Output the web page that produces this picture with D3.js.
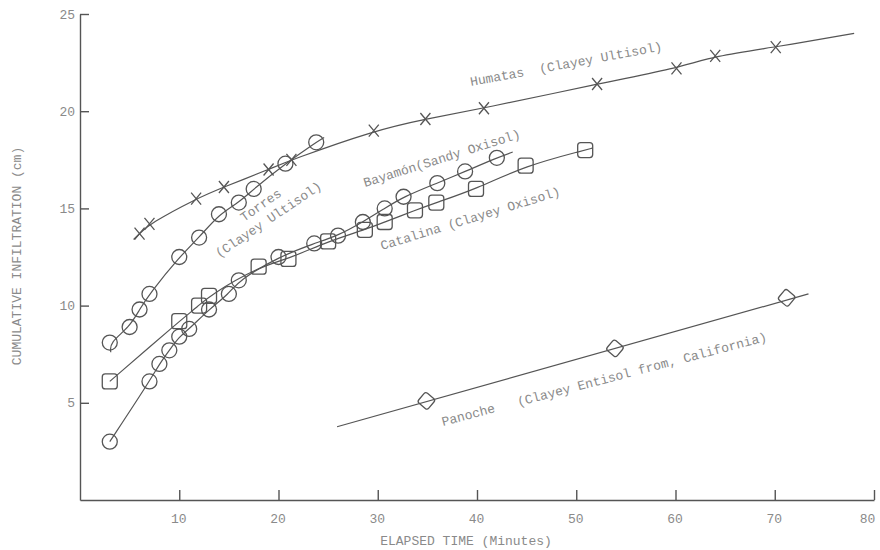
<!DOCTYPE html>
<html>
<head>
<meta charset="utf-8">
<script src="https://cdn.jsdelivr.net/npm/d3@7"></script>
<style>
  body { margin: 0; background: #fff; }
  svg { display: block; }
  text { font-family: "Liberation Mono", "DejaVu Sans Mono", monospace; }
</style>
</head>
<body>
<div id="chart"></div>
<script>
// tick labels
const xTicks = [10, 20, 30, 40, 50, 60, 70, 80];
const yTicks = [5, 10, 15, 20, 25];

// Humatas (x markers)
const humatasTime = [6, 7, 11.7, 14.5, 19, 21.3, 29.6, 34.8, 40.7, 52.1, 60.1, 64, 70.1];
const humatasInf = [13.7, 14.2, 15.5, 16.1, 17.0, 17.5, 19.0, 19.6, 20.15, 21.4, 22.2, 22.85, 23.3];
const humatasEnds = [[5.4, 13.4], [78, 24.0]];

// Torres (circles)
const torresTime = [3, 5, 6, 7, 10, 12, 14, 16, 17.5, 20.7, 23.8];
const torresInf = [8.1, 8.9, 9.8, 10.6, 12.5, 13.5, 14.7, 15.3, 16.0, 17.3, 18.4];
const torresEnds = [[3.1, 7.6], [24.6, 18.65]];

// Bayamon (circles)
const bayamonTime = [3, 7, 8, 9, 10, 11, 13, 15, 16, 20, 23.6, 26, 28.5, 30.7, 32.6, 36, 38.8, 42];
const bayamonInf = [3.0, 6.1, 7.0, 7.7, 8.4, 8.8, 9.8, 10.6, 11.3, 12.5, 13.2, 13.6, 14.3, 15.0, 15.6, 16.3, 16.9, 17.6];
const bayamonEnds = [[3, 3.0], [43.6, 17.9]];

// Catalina (squares)
const catalinaTime = [3, 10, 12, 13, 18, 21, 25, 28.7, 30.7, 33.75, 35.9, 39.9, 44.9, 50.9];
const catalinaInf = [6.1, 9.2, 10.0, 10.5, 12.0, 12.4, 13.3, 13.9, 14.3, 14.9, 15.3, 16.0, 17.2, 18.0];
const catalinaEnds = [[3, 6.1], [51.6, 18.1]];

// Panoche (diamonds)
const panocheTime = [34.9, 53.9, 71.2];
const panocheInf = [5.1, 7.8, 10.4];
const panocheEnds = [[25.9, 3.77], [73.4, 10.6]];

const width = 880, height = 550;
const ink = "#555";
const textInk = "#8a8a8a";

const svg = d3.select("#chart").append("svg")
    .attr("width", width)
    .attr("height", height)
    .style("background", "#fff");

const x = d3.scaleLinear().domain([0, 80]).range([80, 874]);
const y = d3.scaleLinear().domain([0, 25]).range([500, 14]);

// axes, ticks point inward
const xAxis = svg.append("g")
    .attr("transform", `translate(0,${y(0)})`)
    .call(d3.axisBottom(x).tickValues(xTicks).tickSizeInner(-10).tickSizeOuter(0).tickPadding(14));

const yAxis = svg.append("g")
    .attr("transform", `translate(${x(0)},0)`)
    .call(d3.axisLeft(y).tickValues(yTicks).tickSizeInner(-9).tickSizeOuter(0).tickPadding(5));

[xAxis, yAxis].forEach(a => {
    a.select(".domain").attr("stroke", ink).attr("stroke-width", 1.4);
    a.selectAll(".tick line").attr("stroke", ink).attr("stroke-width", 1.4);
    a.selectAll(".tick text")
        .attr("fill", textInk)
        .style("font-family", "'Liberation Mono', monospace")
        .style("font-size", "13px");
});

// the last typed label sits a little left of its tick
xAxis.selectAll(".tick text")
    .attr("dx", d => d === 80 ? -7 : -1);

svg.append("text")
    .attr("x", 466)
    .attr("y", 545)
    .attr("text-anchor", "middle")
    .attr("fill", textInk)
    .style("font-size", "13px")
    .text("ELAPSED TIME (Minutes)");

svg.append("text")
    .attr("transform", "translate(20.5,256) rotate(-90)")
    .attr("text-anchor", "middle")
    .attr("fill", textInk)
    .style("font-size", "13px")
    .text("CUMULATIVE INFILTRATION (cm)");

const series = [
    { time: humatasTime, inf: humatasInf, ends: humatasEnds, mark: "x" },
    { time: torresTime, inf: torresInf, ends: torresEnds, mark: "circle" },
    { time: bayamonTime, inf: bayamonInf, ends: bayamonEnds, mark: "circle" },
    { time: catalinaTime, inf: catalinaInf, ends: catalinaEnds, mark: "square" },
    { time: panocheTime, inf: panocheInf, ends: panocheEnds, mark: "diamond" }
];

const line = d3.line()
    .x(d => x(d[0]))
    .y(d => y(d[1]))
    .curve(d3.curveBasis);

series.forEach(s => {
    const pts = s.time.map((t, i) => [t, s.inf[i]]);
    // smooth fitted curve from the first to the last end point
    const path = s.mark === "diamond" ? s.ends : [s.ends[0], ...pts, s.ends[1]];
    svg.append("path")
        .datum(path)
        .attr("d", line)
        .attr("fill", "none")
        .attr("stroke", ink)
        .attr("stroke-width", 1.2);

    const g = svg.append("g")
        .attr("fill", "none")
        .attr("stroke", ink)
        .attr("stroke-width", 1.3);

    const m = g.selectAll(".m")
        .data(pts)
        .enter();

    if (s.mark === "circle") {
        m.append("circle")
            .attr("cx", d => x(d[0]))
            .attr("cy", d => y(d[1]))
            .attr("r", 7.5);
    } else if (s.mark === "square") {
        m.append("rect")
            .attr("x", d => x(d[0]) - 7.5)
            .attr("y", d => y(d[1]) - 7.5)
            .attr("width", 15)
            .attr("height", 15)
            .attr("rx", 3);
    } else if (s.mark === "diamond") {
        m.append("rect")
            .attr("x", -6.5)
            .attr("y", -6.5)
            .attr("width", 13)
            .attr("height", 13)
            .attr("rx", 2.5)
            .attr("transform", d => `translate(${x(d[0])},${y(d[1])}) rotate(40)`);
    } else {
        m.append("path")
            .attr("d", "M-5,-6L5,6M5,-6L-5,6")
            .attr("transform", d => `translate(${x(d[0])},${y(d[1])})`);
    }
});

// curve labels, typed along the curves
const labels = [
    { text: "Humatas  (Clayey Ultisol)", x: 471, y: 86, angle: -10.5 },
    { text: "Torres", x: 244, y: 222, angle: -35 },
    { text: "(Clayey Ultisol)", x: 219, y: 258, angle: -34 },
    { text: "Bayamón(Sandy Oxisol)", x: 365, y: 187, angle: -17.5 },
    { text: "Catalina (Clayey Oxisol)", x: 382, y: 250, angle: -17 },
    { text: "Panoche   (Clayey Entisol from, California)", x: 443, y: 426, angle: -14.7 }
];

svg.selectAll(".curve-label")
    .data(labels)
    .enter()
    .append("text")
    .attr("class", "curve-label")
    .attr("transform", d => `translate(${d.x},${d.y}) rotate(${d.angle})`)
    .attr("fill", textInk)
    .style("font-size", "13px")
    .style("white-space", "pre")
    .attr("xml:space", "preserve")
    .text(d => d.text);
</script>
</body>
</html>
